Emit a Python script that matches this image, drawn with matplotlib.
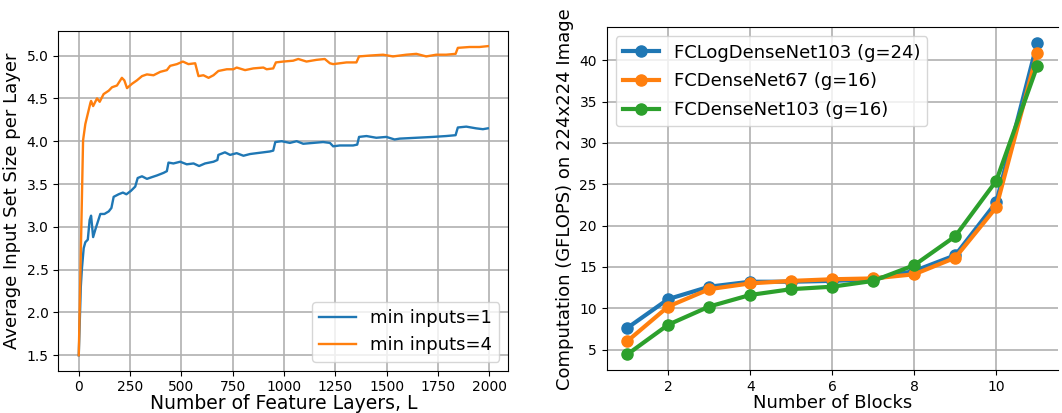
import matplotlib
matplotlib.use("Agg")
from matplotlib import pyplot as plt

# left panel: average input set size vs number of feature layers
layers_1 = [0, 10, 15, 24, 32, 44, 53, 60, 70, 81, 105, 125, 146, 159, 170, 194, 215, 232,
            254, 275, 287, 308, 332, 356, 381, 413, 429, 437, 461, 494, 526, 559, 586, 615,
            656, 675, 680, 712, 737, 769, 802, 834, 866, 899, 931, 947, 957, 988, 1028, 1061,
            1093, 1142, 1190, 1223, 1239, 1271, 1336, 1356, 1365, 1401, 1449, 1498, 1538,
            1563, 1644, 1725, 1789, 1835, 1846, 1887, 1935, 1968, 1992]
size_1 = [1.5, 2.3, 2.5, 2.75, 2.82, 2.85, 3.08, 3.13, 2.88, 2.97, 3.15, 3.15, 3.18, 3.22,
          3.35, 3.38, 3.40, 3.38, 3.42, 3.47, 3.57, 3.59, 3.56, 3.58, 3.60, 3.63, 3.65, 3.75,
          3.74, 3.76, 3.73, 3.74, 3.71, 3.74, 3.76, 3.78, 3.84, 3.87, 3.84, 3.86, 3.83, 3.85,
          3.86, 3.87, 3.88, 3.89, 3.99, 4.00, 3.98, 4.00, 3.97, 3.98, 3.99, 3.98, 3.94, 3.95,
          3.95, 3.96, 4.05, 4.06, 4.04, 4.05, 4.02, 4.03, 4.04, 4.05, 4.06, 4.07, 4.16, 4.17,
          4.15, 4.14, 4.15]

layers_4 = [0, 21, 32, 44, 57, 60, 70, 89, 102, 121, 146, 162, 186, 210, 222, 235, 259, 283,
            308, 332, 364, 397, 429, 445, 478, 507, 534, 567, 583, 607, 632, 656, 680, 721,
            753, 769, 810, 850, 899, 915, 947, 960, 996, 1044, 1069, 1109, 1158, 1198, 1223,
            1239, 1304, 1352, 1365, 1417, 1482, 1530, 1595, 1644, 1692, 1741, 1789, 1835,
            1846, 1903, 1951, 1992]
size_4 = [1.5, 4.01, 4.20, 4.32, 4.45, 4.47, 4.41, 4.50, 4.46, 4.55, 4.59, 4.63, 4.65, 4.74,
          4.71, 4.62, 4.67, 4.71, 4.76, 4.78, 4.77, 4.81, 4.83, 4.88, 4.90, 4.93, 4.90, 4.91,
          4.76, 4.77, 4.74, 4.77, 4.82, 4.84, 4.84, 4.86, 4.83, 4.85, 4.86, 4.84, 4.85, 4.92,
          4.93, 4.94, 4.96, 4.93, 4.95, 4.96, 4.91, 4.90, 4.92, 4.92, 4.99, 5.00, 5.01, 4.99,
          5.01, 5.02, 4.99, 5.01, 5.01, 5.02, 5.09, 5.10, 5.10, 5.11]

# right panel: computation vs number of blocks
blocks = [1, 2, 3, 4, 5, 6, 7, 8, 9, 10, 11]
log_dense_103 = [7.6, 11.1, 12.6, 13.2, 13.2, 13.3, 13.5, 14.5, 16.4, 22.8, 42.1]
dense_67 = [6.0, 10.2, 12.3, 13.0, 13.3, 13.5, 13.6, 14.1, 16.1, 22.2, 40.9]
dense_103 = [4.4, 8.0, 10.2, 11.6, 12.3, 12.6, 13.3, 15.2, 18.7, 25.4, 39.3]


def main():
    fig = plt.figure(figsize=(10.62, 4.13), dpi=100)

    ax1 = fig.add_axes([0.0549, 0.1024, 0.4237, 0.8233])
    ax1.plot(layers_1, size_1, lw=1.7, label="min inputs=1")
    ax1.plot(layers_4, size_4, lw=1.7, label="min inputs=4")
    ax1.grid(lw=1.2)
    ax1.set_xticks([0, 250, 500, 750, 1000, 1250, 1500, 1750, 2000])
    ax1.tick_params(labelsize=10)
    ax1.set_xlabel("Number of Feature Layers, L", fontsize=13.5, labelpad=0)
    ax1.set_ylabel("Average Input Set Size per Layer", fontsize=13)
    ax1.legend(loc="lower right", fontsize=13)

    ax2 = fig.add_axes([0.5713, 0.104, 0.4247, 0.830])
    ax2.plot(blocks, log_dense_103, "o-", lw=3, ms=8, label="FCLogDenseNet103 (g=24)")
    ax2.plot(blocks, dense_67, "o-", lw=3, ms=8, label="FCDenseNet67 (g=16)")
    ax2.plot(blocks, dense_103, "o-", lw=3, ms=8, label="FCDenseNet103 (g=16)")
    ax2.grid(lw=1.2)
    ax2.spines["right"].set_visible(False)
    ax2.tick_params(labelsize=10)
    ax2.set_xlabel("Number of Blocks", fontsize=13, labelpad=0)
    ax2.set_ylabel("Computation (GFLOPS) on 224x224 Image", fontsize=13)
    ax2.legend(loc="upper left", fontsize=13, labelspacing=0.6)

    fig.savefig("out.png", dpi=100)


if __name__ == '__main__':
    main()
